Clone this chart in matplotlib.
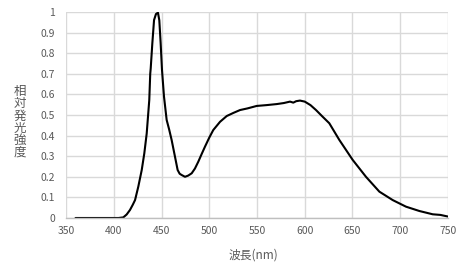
import matplotlib
matplotlib.use("Agg")
import matplotlib.pyplot as plt

wavelength = [360, 370, 380, 390, 400, 405, 410, 413.5, 417, 420, 422.3, 425.7, 429.3, 432, 434.5, 437.2, 438.2, 438.7,
              440.4, 442.2, 444.2, 446.3, 447.7, 449.1, 450.5, 452.6, 455.4, 458, 460.6, 464.1, 466.9,
              469, 471, 474.6, 478, 481.6, 485, 488.5, 492, 495.5, 500, 504.2, 511.3, 518.3, 525.2, 532.2,
              540, 549.7, 560, 570.6, 578, 584.6, 588, 591, 595, 600, 606, 611.8, 618, 625.7,
              636.2, 650.2, 664.1, 678.1, 692.1, 706, 720, 734, 742, 750]
intensity = [0.0, 0.0, 0.0, 0.0, 0.0, 0.0, 0.003, 0.017, 0.039, 0.065, 0.087, 0.152, 0.233, 0.314, 0.41, 0.573, 0.70, 0.726,
             0.848, 0.961, 0.99, 0.997, 0.96, 0.85, 0.72, 0.59, 0.476, 0.43, 0.379, 0.298, 0.233,
             0.215, 0.209, 0.2, 0.206, 0.217, 0.24, 0.273, 0.31, 0.346, 0.39, 0.427, 0.467, 0.495, 0.51, 0.524,
             0.532, 0.544, 0.548, 0.553, 0.558, 0.565, 0.56, 0.567, 0.57, 0.565, 0.548, 0.524, 0.495, 0.46,
             0.379, 0.282, 0.2, 0.128, 0.087, 0.055, 0.034, 0.018, 0.015, 0.007]

x_ticks = [350, 400, 450, 500, 550, 600, 650, 700, 750]
y_ticks = [0, 0.1, 0.2, 0.3, 0.4, 0.5, 0.6, 0.7, 0.8, 0.9, 1.0]
y_tick_labels = ["0", "0.1", "0.2", "0.3", "0.4", "0.5", "0.6", "0.7", "0.8", "0.9", "1"]
x_label = "波長(nm)"
y_label = "相対発光強度"

plt.rcParams['font.family'] = ['Noto Sans CJK JP', 'DejaVu Sans']

fig = plt.figure(figsize=(4.68, 2.80), dpi=100)
ax = fig.add_axes([66/468, 62/280, 382/468, 206/280])

ax.plot(wavelength, intensity, color='black', lw=1.5, solid_joinstyle='round', solid_capstyle='round')

ax.set_xlim(350, 750)
ax.set_ylim(0, 1)
ax.set_xticks(x_ticks)
ax.set_yticks(y_ticks)
ax.set_yticklabels(y_tick_labels)
ax.grid(True, color='#d9d9d9', lw=1.0)
ax.set_axisbelow(True)
for s in ['top', 'right', 'left']:
    ax.spines[s].set_visible(False)
ax.spines['bottom'].set_color('#bfbfbf')
ax.spines['bottom'].set_linewidth(1.0)
ax.tick_params(axis='both', length=0, labelsize=7.5, labelcolor='#595959', pad=6)
ax.tick_params(axis='y', pad=8)

fig.text(253/468, 1 - 255/280, x_label, ha='center', va='center', fontsize=8.5, color='#595959')
fig.text(20/468, 1 - 122/280, "\n".join(y_label), ha='center', va='center', fontsize=9,
         color='#595959', linespacing=0.92)

fig.savefig("out.png", dpi=100)
